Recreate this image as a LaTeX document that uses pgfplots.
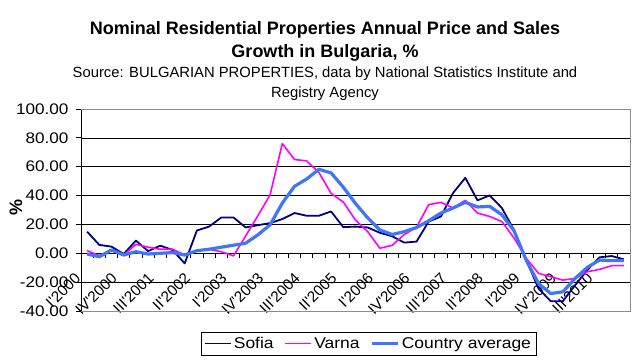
\documentclass[border=0pt]{standalone}
\usepackage{fontspec}
\setmainfont{Liberation Sans}
\newfontfamily\stretchsans[FakeStretch=1.12]{Liberation Sans}
\usepackage{pgfplots}
\pgfplotsset{compat=1.18}
\usepackage{pgfplotstable}
\definecolor{csofia}{RGB}{0,0,128}
\definecolor{cvarna}{RGB}{255,0,255}
\definecolor{ccountry}{RGB}{64,118,245}
\pgfplotstableread{
i sofia varna country
0 15.0 1.8 -0.5
1 5.8 -1.6 -2.4
2 4.6 1.8 2.3
3 -0.5 -1.2 -1.2
4 8.8 6.2 1.1
5 1.5 4.2 -0.5
6 5.3 2.8 0.0
7 2.3 2.8 0.5
8 -7.0 -1.2 -1.2
9 15.8 1.8 1.8
10 18.5 2.8 2.8
11 24.8 1.1 4.2
12 24.8 -1.8 5.6
13 17.9 12.0 7.0
14 19.5 26.0 12.8
15 20.9 40.5 19.7
16 23.7 76.0 34.8
17 27.9 65.0 46.4
18 26.0 64.0 51.5
19 26.0 56.0 58.2
20 29.0 41.5 55.7
21 18.1 35.5 45.8
22 18.5 23.0 34.5
23 17.9 15.0 24.5
24 14.2 3.5 16.2
25 11.8 5.5 13.0
26 7.4 13.0 15.0
27 8.1 18.0 17.8
28 22.0 33.7 22.5
29 25.5 35.3 27.9
30 41.8 31.4 31.4
31 52.3 36.7 35.3
32 36.7 27.9 32.1
33 40.1 25.5 32.5
34 31.4 22.0 26.7
35 16.0 10.5 15.5
36 -4.7 -3.5 -5.0
37 -24.4 -13.9 -20.9
38 -33.2 -16.3 -27.9
39 -33.2 -18.6 -26.7
40 -22.1 -17.4 -17.4
41 -11.6 -12.8 -9.8
42 -2.8 -11.2 -4.7
43 -1.9 -8.6 -5.1
44 -4.2 -8.6 -5.1
}\datatable
\newcommand{\q}{\textquotesingle}
\begin{document}
\begin{tikzpicture}
\useasboundingbox (0,0) rectangle (640pt,361pt);
\fill[white] (0,0) rectangle (640pt,361pt);
\node[anchor=base, font=\bfseries\fontsize{18}{21}\selectfont, inner sep=0pt] at (325pt,326pt) {Nominal Residential Properties Annual Price and Sales};
\node[anchor=base, font=\bfseries\fontsize{18}{21}\selectfont, inner sep=0pt] at (325pt,303pt) {Growth in Bulgaria, \%};
\node[anchor=base, font=\fontsize{14.8}{16}\selectfont, inner sep=0pt] at (325pt,283pt) {Source: BULGARIAN PROPERTIES, data by National Statistics Institute and};
\node[anchor=base, font=\fontsize{14.8}{16}\selectfont, inner sep=0pt] at (325pt,263pt) {Registry Agency};
\node[rotate=90, font=\bfseries\fontsize{18}{21}\selectfont, inner sep=0pt] at (16pt,153.5pt) {\%};
\begin{axis}[
  at={(81pt,50pt)}, anchor=south west, scale only axis,
  width=549pt, height=202pt,
  xmin=-0.5, xmax=44.5, ymin=-40, ymax=100,
  clip=false,
  axis x line=middle, axis y line=left,
  axis line style={-, black, line width=0.9pt},
  tick align=outside,
  hide obscured x ticks=false,
  ytick={-20,0,...,80},
  yticklabels={-20.00,0.00,20.00,40.00,60.00,80.00},
  extra y ticks={-40,100},
  extra y tick labels={-40.00,100.00},
  extra y tick style={grid=none},
  ymajorgrids,
  grid style={black, line width=0.7pt},
  major tick length=5pt,
  minor tick length=5pt,
  y tick style={black, line width=0.8pt},
  yticklabel style={font=\stretchsans\fontsize{15.3}{18}\selectfont, xshift=-4pt},
  xtick={0,3,...,42},
  xticklabels={I\q2000,IV\q2000,III\q2001,II\q2002,I\q2003,IV\q2003,III\q2004,II\q2005,I\q2006,IV\q2006,III\q2007,II\q2008,I\q2009,IV\q2009,III\q2010},
  major x tick style={draw=none},
  minor xtick={-0.5,0.5,...,44.5},
  minor x tick style={black, line width=0.8pt},
  xticklabel style={xshift=-7pt, yshift=-15pt, rotate=45, anchor=east, font=\fontsize{15.3}{18}\selectfont},
  legend columns=3,
  legend style={at={(rel axis cs:0.5237,-0.161)}, anchor=center, draw=black,
    font=\stretchsans\fontsize{15.6}{18}\selectfont, inner sep=3pt,
    /tikz/every even column/.append style={column sep=9pt}},
]
\addplot[draw=csofia, line width=1.8pt, line join=round,
  legend image code/.code={\draw[csofia, line width=1.8pt] (0pt,0pt) -- (26pt,0pt);}]
  table[x=i, y=sofia] {\datatable};
\addlegendentry{Sofia}
\addplot[draw=cvarna, line width=1.6pt, line join=round,
  legend image code/.code={\draw[cvarna, line width=1.6pt] (0pt,0pt) -- (26pt,0pt);}]
  table[x=i, y=varna] {\datatable};
\addlegendentry{Varna}
\addplot[draw=ccountry, line width=3.2pt, line join=round,
  legend image code/.code={\draw[ccountry, line width=3.2pt] (0pt,0pt) -- (26pt,0pt);}]
  table[x=i, y=country] {\datatable};
\addlegendentry{Country average}
\draw[black!45, line width=0.9pt] (rel axis cs:0,0) -- (rel axis cs:1,0) -- (rel axis cs:1,1) -- (rel axis cs:0,1);
\end{axis}
\end{tikzpicture}
\end{document}
